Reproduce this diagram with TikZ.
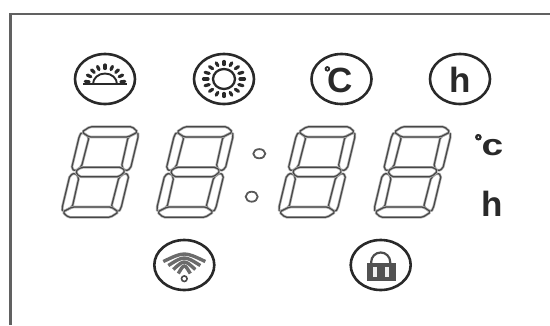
\documentclass[tikz,border=0pt]{standalone}
\usepackage{fontspec}
\usetikzlibrary{calc}
\setmainfont{Liberation Sans}
\newfontface\dotface[FakeBold=5]{Liberation Sans Bold}
\definecolor{ink}{gray}{0.16}
\tikzset{
  ring/.style={draw=ink,line width=2.6pt,fill=none},
  seg/.style={draw=black!72,line width=1.2pt,rounded corners=1.8pt,line join=round,preaction={draw=black!30,line width=2.6pt}},
  lcdtext/.style={font=\bfseries\fontsize{#1}{#1}\selectfont,text=ink,inner sep=0pt,anchor=base},
  ray/.style={draw=ink,line width=3.2pt,line cap=round}
}
\newcommand{\lcddigit}[1]{%
  \begin{scope}[shift={(#1,172)},xslant=0.24]
    \foreach \sx/\sy in {1/1,-1/1,1/-1,-1/-1}{
      \begin{scope}[xscale=\sx,yscale=\sy]
        \path[seg] (-28,-40) -- (-19.5,-35) -- (-20,-5.5) -- (-25,-0.8) -- (-29.5,-3.5) -- (-29.5,-36) -- cycle;
      \end{scope}
    }
    \foreach \sy in {1,-1}{
      \begin{scope}[yscale=\sy]
        \path[seg] (-28,-40) -- (-21,-45.3) -- (21,-45.3) -- (28,-40) -- (19.5,-35) -- (-19.5,-35) -- cycle;
      \end{scope}
    }
    \path[seg] (-25,-0.8) -- (-20,-4.7) -- (20,-4.7) -- (25,-0.8) -- (20,4.7) -- (-20,4.7) -- cycle;
  \end{scope}}
\begin{document}
\begin{tikzpicture}[x=1pt,y=-1pt]
\useasboundingbox (0,0) rectangle (550,325);
% frame
\draw[black!62,line width=2.4pt] (10.5,325) -- (10.5,14) -- (550,14);
% sunrise
\coordinate (sunrise) at (105,79);
\coordinate (horizon) at (105,84);
\draw[ring] (sunrise) ellipse[x radius=30pt,y radius=25pt];
\draw[ink,line width=2pt] (83,84) -- (127,84);
\draw[ink,line width=1.9pt] (93,84) arc[start angle=180,end angle=0,x radius=12pt,y radius=10.5pt];
\foreach \a in {172,152,132,112,90,68,48,28,8}{
  \draw[ray] ($(horizon)+(\a:16pt and 15.5pt)$) -- ($(horizon)+(\a:20pt and 19pt)$);
}
% sun
\coordinate (sun) at (224,79);
\draw[ring] (sun) ellipse[x radius=30pt,y radius=25pt];
\draw[ink,line width=2.3pt] (sun) ellipse[x radius=11pt,y radius=10pt];
\foreach \a in {0,22.5,...,337.5}{
  \draw[ray] ($(sun)+(\a:16pt and 14.5pt)$) -- ($(sun)+(\a:20.5pt and 17.5pt)$);
}
% degree C
\coordinate (cel) at (341.5,79);
\draw[ring] (cel) ellipse[x radius=30pt,y radius=25pt];
\node[lcdtext=35] (celtext) at (338.5,92) {\raisebox{15pt}{\dotface\fontsize{15}{15}\selectfont °}\kern-3pt C};
% hour
\coordinate (hour) at (460,79);
\draw[ring] (hour) ellipse[x radius=30pt,y radius=25pt];
\node[lcdtext=35] (hourtext) at (460,92.5) {h};
% digits
\lcddigit{100.2}
\lcddigit{195}
\lcddigit{317}
\lcddigit{412.5}
% colon
\draw[black!65,line width=1.8pt] (259.3,153.7) ellipse[x radius=6pt,y radius=4.6pt];
\draw[black!65,line width=1.8pt] (251.7,196.7) ellipse[x radius=6pt,y radius=5pt];
% side labels
\node[lcdtext=30] (unitc) at (489,155) {\raisebox{8pt}{\dotface\fontsize{18}{18}\selectfont °}\kern-0.5pt\scalebox{1.3}[1]{c}};
\node[lcdtext=35] (unith) at (492,216.5) {h};
% wifi
\coordinate (wifi) at (184.3,265);
\draw[ring] (wifi) ellipse[x radius=30pt,y radius=25pt];
\foreach \r/\t in {21/256.5,16/260.5,11/264.5,6/268.5}{
  \draw[black!58,line width=3.4pt] (184.3-\r,\t+5) .. controls (184.3,\t-5) .. (184.3+\r,\t+5);
}
\draw[black!70,line width=1.6pt] (184.3,278.7) circle[radius=2.8pt];
% lock
\coordinate (lock) at (380.7,265);
\draw[ring] (lock) ellipse[x radius=30pt,y radius=25pt];
\draw[black!70,line width=2.2pt] (371.2,264) -- (371.2,262) arc[start angle=180,end angle=0,radius=9.5pt] -- (390.2,264);
\fill[black!68] (366.7,262.5) rectangle (395.5,280.5);
\fill[black!6] (373,266.7) rectangle (377,277);
\fill[black!6] (384.5,266.7) rectangle (388.5,277);
\end{tikzpicture}
\end{document}
